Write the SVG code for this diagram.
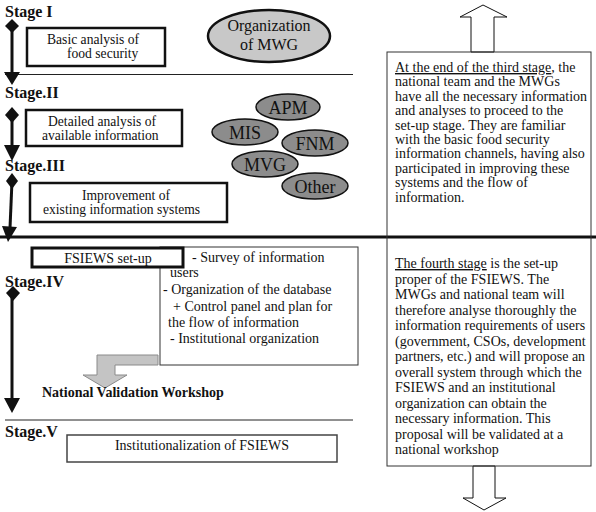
<svg xmlns="http://www.w3.org/2000/svg" width="596" height="512" viewBox="0 0 596 512" font-family="'Liberation Serif', 'Times New Roman', serif">
<style>
text{font-family:'Liberation Serif','Times New Roman',serif;fill:#111}
.stage{font-weight:bold;font-size:16px}
.bt{font-size:14px}
.bx{font-size:13.6px}
.box{fill:#fff;stroke:#111;stroke-width:2.5}
.thin{fill:#fff;stroke:#333;stroke-width:1}
.el{fill:#8c8c8c;stroke:#111;stroke-width:1.5}
.et{font-size:18px;text-anchor:middle}
.rt{font-size:14px}
.u{text-decoration:underline}
.spine{stroke:#111;stroke-width:3;fill:none}
.head{fill:#111}
.hollow{fill:#fff;stroke:#111;stroke-width:1}
</style>
<rect width="596" height="512" fill="#fff"/>

<g id="separators">
<line x1="5" y1="74.5" x2="353" y2="74.5" stroke="#222" stroke-width="1"/>
<line x1="0" y1="237" x2="596" y2="237" stroke="#111" stroke-width="3"/>
<line x1="5" y1="420" x2="353" y2="420" stroke="#222" stroke-width="1"/>
</g>

<g id="stage-labels">
<text class="stage" x="5" y="17">Stage I</text>
<text class="stage" x="5" y="98">Stage.II</text>
<text class="stage" x="5" y="171">Stage.III</text>
<text class="stage" x="5" y="287">Stage.IV</text>
<text class="stage" x="5" y="437">Stage.V</text>
</g>

<g id="connectors">
<polygon class="head" points="12,19 19,26 12,33 5,26"/>
<line class="spine" x1="12" y1="26" x2="12" y2="74"/>
<polygon class="head" points="4,72 20,72 12,85"/>
<polygon class="head" points="12,107 19,115 12,123 5,115"/>
<line class="spine" x1="12" y1="115" x2="12" y2="147"/>
<polygon class="head" points="4,145 20,145 12,161"/>
<polygon class="head" points="12,173 18,181 12,189 6,181"/>
<line class="spine" x1="12" y1="181" x2="10" y2="228"/>
<polygon class="head" points="2,226 17,227 8,242"/>
<polygon class="head" points="13,286 20,293 13,301 6,293"/>
<line class="spine" x1="12" y1="293" x2="12" y2="400"/>
<polygon class="head" points="4,398 20,398 12,413"/>
<polygon points="158,355 97,355 97,375 83,375 105,388 127,375 115,375 115,365 158,365" fill="#c4c4c4" stroke="#8a8a8a" stroke-width="1"/>
<polygon class="hollow" points="471,52 471,17 460,17 483,5 507,17 494,17 494,52"/>
<polygon class="hollow" points="473,466 473,498 463,498 484,510 506,498 495,498 495,466"/>
</g>

<g id="n-basic">
<rect class="box" x="27" y="28" width="138" height="38"/>
<text class="bx" x="47" y="44">Basic analysis of</text>
<text class="bx" x="67" y="58">food security</text>
</g>

<g id="n-org">
<ellipse cx="269" cy="36" rx="61" ry="26" fill="#c8c8c8" stroke="#111" stroke-width="2.5"/>
<text x="269" y="31" font-size="16" text-anchor="middle">Organization</text>
<text x="269" y="50" font-size="16" text-anchor="middle">of MWG</text>
</g>

<g id="n-detailed">
<rect class="box" x="26" y="110" width="156" height="36"/>
<text class="bx" x="48" y="126">Detailed analysis of</text>
<text class="bx" x="42" y="140">available information</text>
</g>

<g id="n-apm"><ellipse class="el" cx="288" cy="107" rx="32" ry="13"/><text class="et" x="288" y="114">APM</text></g>
<g id="n-mis"><ellipse class="el" cx="245" cy="132" rx="33" ry="13"/><text class="et" x="245" y="139">MIS</text></g>
<g id="n-fnm"><ellipse class="el" cx="315" cy="143" rx="33" ry="13"/><text class="et" x="315" y="150">FNM</text></g>
<g id="n-mvg"><ellipse class="el" cx="265" cy="164" rx="33" ry="13"/><text class="et" x="265" y="171">MVG</text></g>
<g id="n-other"><ellipse class="el" cx="315" cy="186" rx="33" ry="13"/><text class="et" x="315" y="193">Other</text></g>

<g id="n-improve">
<rect class="box" x="30" y="183" width="197" height="39"/>
<text class="bx" x="82" y="200">Improvement of</text>
<text class="bx" x="43" y="214">existing information systems</text>
</g>

<g id="n-list">
<rect class="thin" x="160" y="247" width="198" height="118"/>
<text class="bt" x="192" y="262">- Survey of information</text>
<text class="bt" x="170" y="277">users</text>
<text class="bt" x="163" y="294">- Organization of the database</text>
<text class="bt" x="173" y="311">+ Control panel and plan for</text>
<text class="bt" x="168" y="327">the flow of information</text>
<text class="bt" x="170" y="343">- Institutional organization</text>
</g>

<g id="n-setup">
<rect x="32" y="248" width="151" height="19" fill="#fff" stroke="#111" stroke-width="3"/>
<text class="bt" x="108" y="263" text-anchor="middle">FSIEWS set-up</text>
</g>

<g id="n-workshop">
<text x="42" y="397" font-size="14" font-weight="bold">National Validation Workshop</text>
</g>

<g id="n-inst">
<rect x="67" y="435" width="270" height="27" fill="#fff" stroke="#444" stroke-width="1.5"/>
<text class="bt" x="202" y="450" text-anchor="middle">Institutionalization of FSIEWS</text>
</g>

<g id="n-notes">
<rect x="387" y="52" width="204" height="414" fill="none" stroke="#333" stroke-width="1"/>
<text class="rt" x="395" y="72"><tspan class="u">At the end of the third stage</tspan>, the</text>
<text class="rt" x="395" y="86.4">national team and the MWGs</text>
<text class="rt" x="395" y="100.8">have all the necessary information</text>
<text class="rt" x="395" y="115.2">and analyses to proceed to  the</text>
<text class="rt" x="395" y="129.6">set-up stage. They are familiar</text>
<text class="rt" x="395" y="144">with the basic food security</text>
<text class="rt" x="395" y="158.4">information channels, having also</text>
<text class="rt" x="395" y="172.8">participated in improving these</text>
<text class="rt" x="395" y="187.2">systems and the flow of</text>
<text class="rt" x="395" y="201.6">information.</text>
<text class="rt" x="395" y="268"><tspan class="u">The fourth stage</tspan> is the set-up</text>
<text class="rt" x="395" y="283.5">proper of the FSIEWS. The</text>
<text class="rt" x="395" y="299">MWGs and national team will</text>
<text class="rt" x="395" y="314.5">therefore analyse thoroughly the</text>
<text class="rt" x="395" y="330">information requirements of users</text>
<text class="rt" x="395" y="345.5">(government, CSOs, development</text>
<text class="rt" x="395" y="361">partners, etc.) and will propose an</text>
<text class="rt" x="395" y="376.5">overall system through which the</text>
<text class="rt" x="395" y="392">FSIEWS and an institutional</text>
<text class="rt" x="395" y="407.5">organization can obtain the</text>
<text class="rt" x="395" y="423">necessary information. This</text>
<text class="rt" x="395" y="438.5">proposal will be validated at a</text>
<text class="rt" x="395" y="454">national workshop</text>
</g>
</svg>
